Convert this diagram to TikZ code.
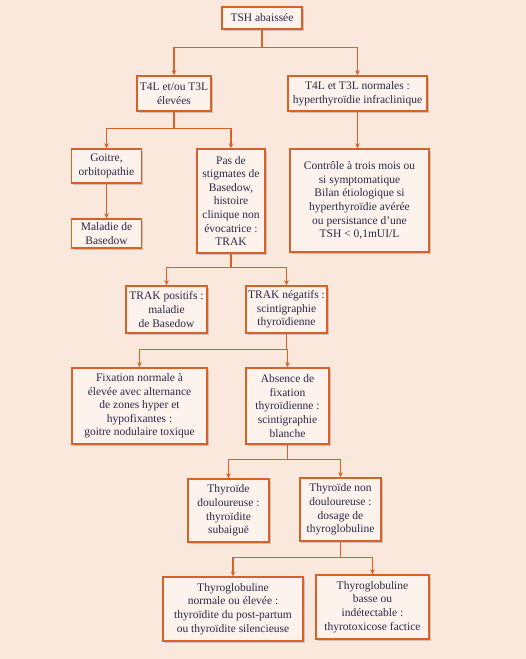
\documentclass[tikz,border=0pt]{standalone}
\usepackage{fontspec}
\setmainfont{Liberation Serif}
\usetikzlibrary{shadows,arrows.meta}
\definecolor{bgc}{HTML}{FBE8DC}
\definecolor{boxc}{HTML}{FDF3EC}
\definecolor{linec}{HTML}{D8612A}
\definecolor{txtc}{HTML}{2B2848}
\tikzset{
  box/.style={draw=linec, line width=1.4pt, fill=boxc, text=txtc, align=center,
    inner sep=1.5pt, font=\fontsize{11.5}{13.6}\selectfont,
    drop shadow={shadow xshift=1.6pt, shadow yshift=-1.6pt, opacity=0.3, fill=black!60}},
  link/.style={draw=linec, line width=1.3pt},
  arr/.style={link, -{Stealth[length=5pt,width=4.5pt]}}
}
\begin{document}
\begin{tikzpicture}[x=1pt,y=-1pt]
\fill[bgc] (0,0) rectangle (526,659);
\useasboundingbox (0,0) rectangle (526,659);
\node[box, minimum width=80pt, minimum height=22pt] (tsh) at (262,18) {TSH abaissée};
\node[box, minimum width=74pt, minimum height=35pt] (t4l) at (174,93.5) {T4L et/ou T3L\\élevées};
\node[box, minimum width=139pt, minimum height=35pt] (norm) at (357.5,93.5) {T4L et T3L normales :\\hyperthyroïdie infraclinique};
\node[box, minimum width=70pt, minimum height=34pt] (goitre) at (106.5,166) {Goitre,\\orbitopathie};
\node[box, minimum width=68pt, minimum height=104pt] (pas) at (231,201) {Pas de\\stigmates de\\Basedow,\\histoire\\clinique non\\évocatrice :\\TRAK};
\node[box, minimum width=139pt, minimum height=103pt] (ctrl) at (359.5,200.5) {Contrôle à trois mois ou\\si symptomatique\\Bilan étiologique si\\hyperthyroïdie avérée\\ou persistance d’une\\TSH < 0,1mUI/L};
\node[box, minimum width=70pt, minimum height=29pt] (mal) at (106.5,233.5) {Maladie de\\Basedow};
\node[box, minimum width=81pt, minimum height=47pt] (trakp) at (166.5,309.5) {TRAK positifs :\\maladie\\de Basedow};
\node[box, minimum width=81pt, minimum height=47pt] (trakn) at (286.5,309.5) {TRAK négatifs :\\scintigraphie\\thyroïdienne};
\node[box, minimum width=135pt, minimum height=76pt] (fix) at (139.5,406) {Fixation normale à\\élevée avec alternance\\de zones hyper et\\hypofixantes :\\goitre nodulaire toxique};
\node[box, minimum width=83pt, minimum height=76pt] (abs) at (287.5,406) {Absence de\\fixation\\thyroïdienne :\\scintigraphie\\blanche};
\node[box, minimum width=81pt, minimum height=63pt] (doul) at (228.5,510.5) {Thyroïde\\douloureuse :\\thyroïdite\\subaiguë};
\node[box, minimum width=81pt, minimum height=63pt] (ndoul) at (340.5,509.5) {Thyroïde non\\douloureuse :\\dosage de\\thyroglobuline};
\node[box, minimum width=140pt, minimum height=64pt] (tgn) at (233,609) {Thyroglobuline\\normale ou élevée :\\thyroïdite du post-partum\\ou thyroïdite silencieuse};
\node[box, minimum width=113pt, minimum height=64pt] (tgb) at (372.5,607) {Thyroglobuline\\basse ou\\indétectable :\\thyrotoxicose factice};
% connectors
\draw[link] (tsh.south) -- ++(0,18) coordinate (s1);
\draw[arr] (s1) -| (t4l.north);
\draw[arr] (s1) -| (norm.north);
\draw[link] (t4l.south) -- ++(0,17) coordinate (s2);
\draw[arr] (s2) -| (goitre.north);
\draw[arr] (s2) -| (pas.north);
\draw[arr] (norm.south) -- (norm.south |- ctrl.north);
\draw[arr] (goitre.south) -- (mal.north);
\draw[link] (pas.south) -- ++(0,14) coordinate (s3);
\draw[arr] (s3) -| (trakp.north);
\draw[arr] (s3) -| (trakn.north);
\draw[link] (trakn.south) -- ++(0,16) coordinate (s4);
\draw[arr] (s4) -| (fix.north);
\draw[arr] (s4) -| (abs.north);
\draw[link] (abs.south) -- ++(0,15) coordinate (s5);
\draw[arr] (s5) -| (doul.north);
\draw[arr] (s5) -| (ndoul.north);
\draw[link] (ndoul.south) -- ++(0,16) coordinate (s6);
\draw[arr] (s6) -| (tgn.north);
\draw[arr] (s6) -| (tgb.north);
\end{tikzpicture}
\end{document}
